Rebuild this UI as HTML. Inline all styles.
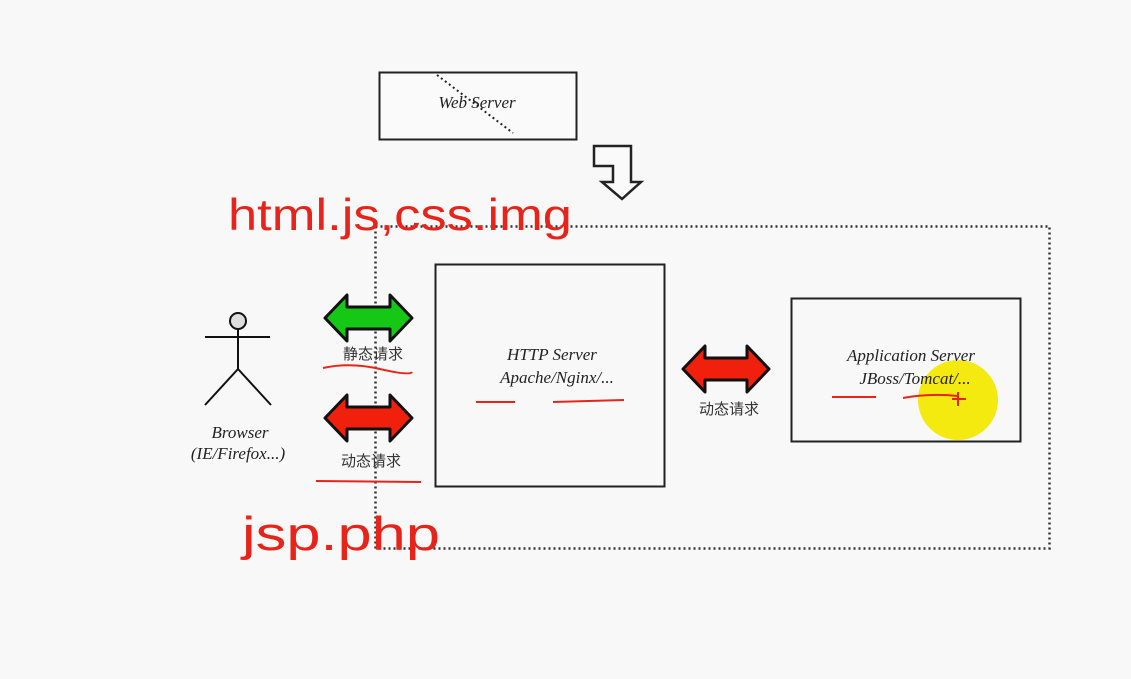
<!DOCTYPE html>
<html><head><meta charset="utf-8"><style>
html,body{margin:0;padding:0;background:#f8f8f8;}
svg{display:block;}
.it{font-family:"Liberation Serif",serif;font-style:italic;fill:#222;}
.cn{font-family:"Liberation Sans","Noto Sans CJK SC",sans-serif;fill:#333;}
.hw{font-family:"Liberation Sans",sans-serif;fill:#e8241a;}
</style></head><body>
<svg width="1131" height="679" viewBox="0 0 1131 679" xmlns="http://www.w3.org/2000/svg">
<rect width="1131" height="679" fill="#f8f8f8"/>
<rect x="379.5" y="72.5" width="197" height="67" fill="#fafafa" stroke="#222" stroke-width="2"/>
<line x1="437" y1="75" x2="513" y2="133" stroke="#222" stroke-width="2" stroke-dasharray="2,3"/>
<text x="477" y="108" class="it" font-size="17" text-anchor="middle">Web Server</text>
<path d="M594,146 L631,146 L631,182 L641,182 L622,199 L602,182 L613,182 L613,166 L594,166 Z" fill="#fafafa" stroke="#222" stroke-width="2.5"/>
<rect x="375.5" y="226.5" width="674" height="322" fill="none" stroke="#333" stroke-width="2.5" stroke-dasharray="2,3"/>
<rect x="435.5" y="264.5" width="229" height="222" fill="none" stroke="#222" stroke-width="2"/>
<text x="552" y="360" class="it" font-size="17" text-anchor="middle">HTTP Server</text>
<text x="557" y="383" class="it" font-size="17" text-anchor="middle">Apache/Nginx/...</text>
<circle cx="958" cy="400" r="40" fill="#f4ea10"/>
<rect x="791.5" y="298.5" width="229" height="143" fill="none" stroke="#222" stroke-width="2"/>
<text x="911" y="361" class="it" font-size="17" text-anchor="middle">Application Server</text>
<text x="915" y="384" class="it" font-size="17" text-anchor="middle">JBoss/Tomcat/...</text>
<path d="M325,318 L347,295 L347,307 L390,307 L390,295 L412,318 L390,341 L390,329 L347,329 L347,341 Z" fill="#16c816" stroke="#111" stroke-width="3" stroke-linejoin="round"/>
<path d="M325,418 L347,395 L347,407 L390,407 L390,395 L412,418 L390,441 L390,429 L347,429 L347,441 Z" fill="#f0200c" stroke="#111" stroke-width="3" stroke-linejoin="round"/>
<path d="M683,369 L705,346 L705,358 L747,358 L747,346 L769,369 L747,392 L747,380 L705,380 L705,392 Z" fill="#f0200c" stroke="#111" stroke-width="3" stroke-linejoin="round"/>
<text x="373" y="359" class="cn" font-size="15" text-anchor="middle">静态请求</text>
<text x="371" y="466" class="cn" font-size="15" text-anchor="middle">动态请求</text>
<text x="729" y="414" class="cn" font-size="15" text-anchor="middle">动态请求</text>
<circle cx="238" cy="321" r="8" fill="#ddd" stroke="#111" stroke-width="2"/>
<g stroke="#111" stroke-width="2" fill="none">
<line x1="238" y1="329" x2="238" y2="369"/>
<line x1="205" y1="337" x2="270" y2="337"/>
<line x1="238" y1="369" x2="205" y2="405"/>
<line x1="238" y1="369" x2="271" y2="405"/>
</g>
<text x="240" y="438" class="it" font-size="17" text-anchor="middle">Browser</text>
<text x="238" y="459" class="it" font-size="17" text-anchor="middle">(IE/Firefox...)</text>
<g stroke="#e8241a" stroke-width="2" fill="none">
<path d="M323,368 Q350,362 380,369 T412,372"/>
<path d="M316,481 L421,482"/>
<path d="M476,402 L515,402"/>
<path d="M553,402 L624,400"/>
<path d="M832,397 L876,397"/>
<path d="M903,398 Q930,393 958,396"/>
<path d="M952,399 L966,399 M958,392 L958,406"/>
</g>
<g transform="translate(228,230) scale(1,1.6)">
<text x="0" y="0" class="hw" font-size="28" textLength="344" lengthAdjust="spacingAndGlyphs">html.js,css.img</text>
</g>
<g transform="translate(242,550) scale(1,1.7)">
<text x="0" y="0" class="hw" font-size="28" textLength="198" lengthAdjust="spacingAndGlyphs">jsp.php</text>
</g>
</svg>
</body></html>
